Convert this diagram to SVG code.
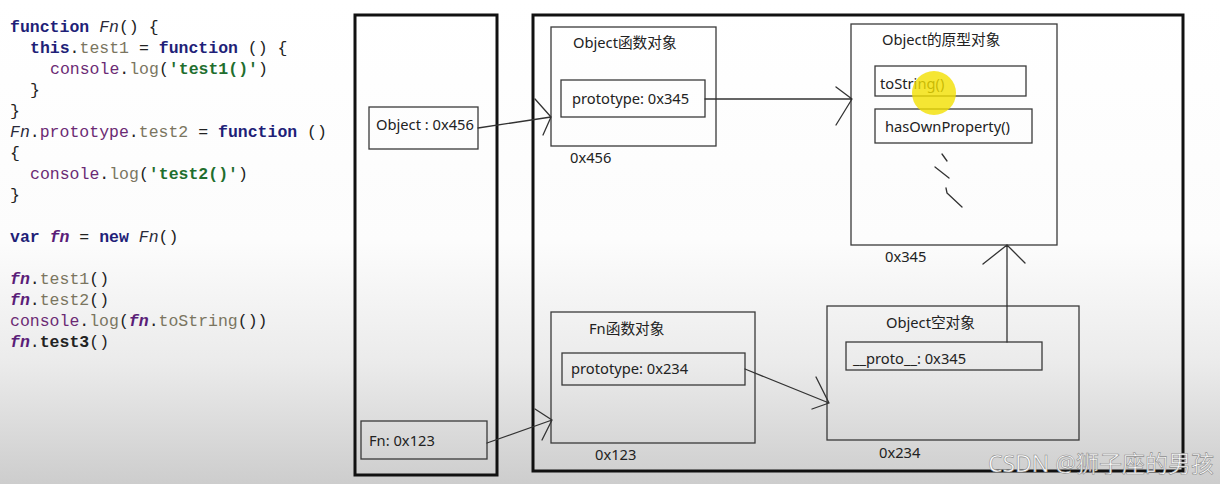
<svg xmlns="http://www.w3.org/2000/svg" width="1220" height="484" viewBox="0 0 1220 484">
<defs>
<linearGradient id="bg" x1="0" y1="0" x2="0" y2="1">
<stop offset="0" stop-color="#ffffff"/>
<stop offset="0.5" stop-color="#fcfcfc"/>
<stop offset="0.75" stop-color="#ebebeb"/>
<stop offset="1" stop-color="#cdcdcd"/>
</linearGradient>
<style>
.code{font-family:"Liberation Mono","DejaVu Sans Mono",monospace;font-size:16.5px;fill:#222}
.kw{fill:#1f1f78;font-weight:bold}
.it{font-style:italic;fill:#2a2a3a}
.fn{font-style:italic;font-weight:bold;fill:#5a1d78}
.pu{fill:#6b2a74}
.ol{fill:#7a7560}
.st{fill:#1f6e2e;font-weight:bold}
.dk{fill:#222;font-weight:bold}
.outer{fill:none;stroke:#111;stroke-width:3}
.box{fill:none;stroke:#3a3a3a;stroke-width:1.3}
.lbl{font-family:"Noto Sans","Noto Sans CJK SC",sans-serif;font-size:14.7px;fill:#222}
.conn{fill:none;stroke:#333;stroke-width:1.3;stroke-linecap:round;stroke-linejoin:round}
</style>
</defs>
<rect x="0" y="0" width="1220" height="484" fill="url(#bg)"/>

<g id="code" class="code">
<text x="10" y="32"><tspan class="kw">function</tspan> <tspan class="it">Fn</tspan>() {</text>
<text x="30" y="53"><tspan class="kw">this</tspan>.<tspan class="ol">test1</tspan> = <tspan class="kw">function</tspan> () {</text>
<text x="50" y="74"><tspan class="pu">console</tspan>.<tspan class="ol">log</tspan>(<tspan class="st">'test1()'</tspan>)</text>
<text x="30" y="95">}</text>
<text x="10" y="116">}</text>
<text x="10" y="137"><tspan class="it">Fn</tspan>.<tspan class="pu">prototype</tspan>.<tspan class="ol">test2</tspan> = <tspan class="kw">function</tspan> ()</text>
<text x="10" y="158">{</text>
<text x="30" y="179"><tspan class="pu">console</tspan>.<tspan class="ol">log</tspan>(<tspan class="st">'test2()'</tspan>)</text>
<text x="10" y="200">}</text>
<text x="10" y="242"><tspan class="kw">var</tspan> <tspan class="fn">fn</tspan> = <tspan class="kw">new</tspan> <tspan class="it">Fn</tspan>()</text>
<text x="10" y="284"><tspan class="fn">fn</tspan>.<tspan class="ol">test1</tspan>()</text>
<text x="10" y="305"><tspan class="fn">fn</tspan>.<tspan class="ol">test2</tspan>()</text>
<text x="10" y="326"><tspan class="pu">console</tspan>.<tspan class="ol">log</tspan>(<tspan class="fn">fn</tspan>.<tspan class="ol">toString</tspan>())</text>
<text x="10" y="347"><tspan class="fn">fn</tspan>.<tspan class="dk">test3</tspan>()</text>
</g>

<g id="stack">
<rect class="outer" x="355" y="15" width="142" height="460"/>
</g>
<g id="heap">
<rect class="outer" x="533" y="15" width="650" height="456"/>
</g>

<g id="var-object">
<rect class="box" x="369" y="107" width="109" height="42"/>
<text class="lbl" x="376" y="130">Object : 0x456</text>
</g>
<g id="var-fn">
<rect class="box" x="361" y="421" width="126" height="38"/>
<text class="lbl" x="369" y="446">Fn: 0x123</text>
</g>

<g id="object-function">
<rect class="box" x="551" y="27" width="165" height="119"/>
<text class="lbl" x="573" y="48">Object函数对象</text>
<rect class="box" x="561" y="80" width="144" height="37"/>
<text class="lbl" x="572" y="104">prototype: 0x345</text>
<text class="lbl" x="570" y="163">0x456</text>
</g>

<g id="object-prototype">
<rect class="box" x="851" y="24" width="206" height="221"/>
<text class="lbl" x="882" y="45">Object的原型对象</text>
<rect class="box" x="875" y="66" width="151" height="30"/>
<text class="lbl" x="880" y="89">toString()</text>
<rect class="box" x="875" y="109" width="157" height="34"/>
<text class="lbl" x="885" y="132">hasOwnProperty()</text>
<path class="conn" d="M942 154 L947 161 M935 167 L949 178 M946 188 L947 193 L962 207"/>
<text class="lbl" x="885" y="262">0x345</text>
</g>

<g id="fn-function">
<rect class="box" x="551" y="312" width="204" height="131"/>
<text class="lbl" x="589" y="334">Fn函数对象</text>
<rect class="box" x="562" y="353" width="183" height="32"/>
<text class="lbl" x="571" y="374">prototype: 0x234</text>
<text class="lbl" x="595" y="460">0x123</text>
</g>

<g id="object-empty">
<rect class="box" x="827" y="306" width="252" height="134"/>
<text class="lbl" x="886" y="328">Object空对象</text>
<rect class="box" x="846" y="342" width="196" height="28"/>
<text class="lbl" x="853" y="364">__proto__: 0x345</text>
<text class="lbl" x="879" y="458">0x234</text>
</g>

<g id="connectors">
<path class="conn" d="M478 128 L551 117 M535 99 L551 117 L543 135"/>
<path class="conn" d="M705 99 L852 99 M836 87 L852 99 L836 125"/>
<path class="conn" d="M487 443 L552 420 M535 409 L552 420 L542 440"/>
<path class="conn" d="M745 369 L829 403 M816 377 L829 403 L812 409"/>
<path class="conn" d="M1007 342 L1007 245 M983 264 L1007 245 L1025 263"/>
</g>

<circle id="cursor-highlight" cx="934" cy="93" r="22" fill="#f3e000" opacity="0.8"/>
<text x="1214" y="472" text-anchor="end" font-family="Noto Sans,Noto Sans CJK SC,sans-serif" font-size="23" fill="#ffffff" stroke="#8c8c8c" stroke-width="0.6">CSDN @狮子座的男孩</text>
</svg>
